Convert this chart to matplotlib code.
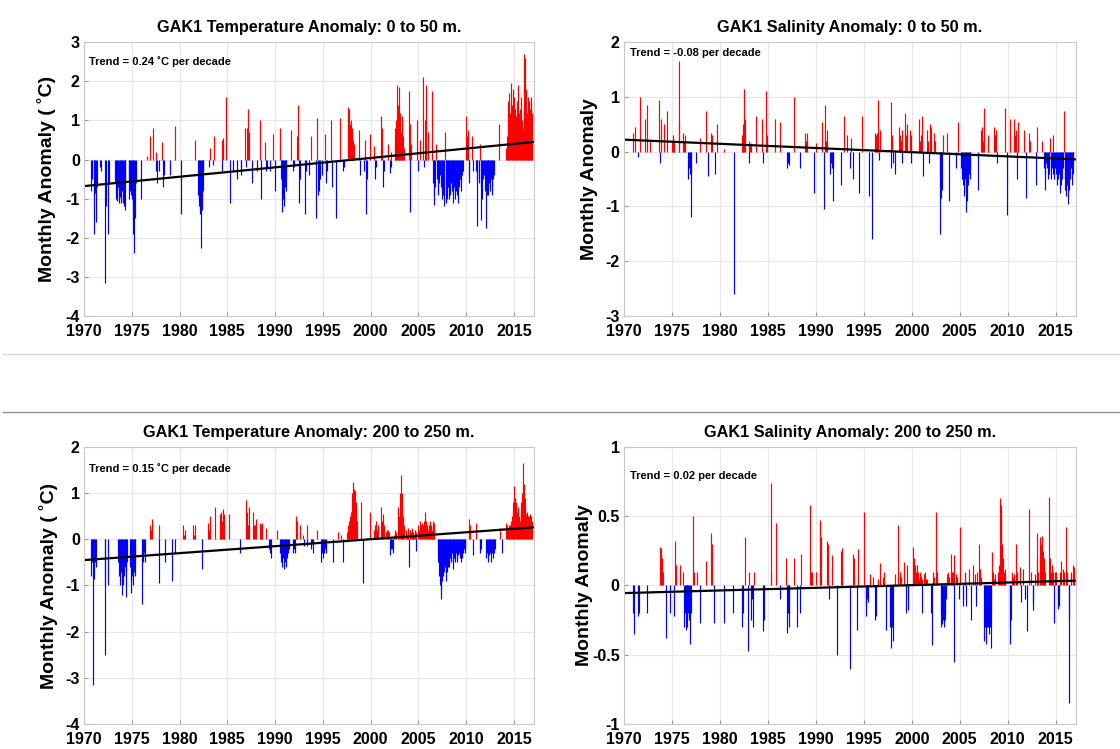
import numpy as np
import matplotlib
matplotlib.use("Agg")
import matplotlib.pyplot as plt
from matplotlib.lines import Line2D

plt.rcParams['font.family'] = ['Liberation Sans', 'DejaVu Sans']
plt.rcParams['font.weight'] = 'bold'

# monthly anomalies, as runs: (first month as decimal year, [values])
temp_shallow = [
    (1970.75, [-0.8, -0.5]), (1971.0, [-1.9, -0.9, -0.85, -1.6, -0.7]), (1971.7, [-0.2, -0.3]),
    (1972.17, [-3.15, -1.2]), (1972.5, [-1.9, -0.6]),
    (1973.25, [-0.6, -1.0, -0.9, -1.05, -0.7, -1.1, -0.95, -1.1, -1.0, -0.8, -1.1, -1.2, -1.3, -0.6]),
    (1974.67, [-0.5, -1.0, -0.8, -0.9, -1.0, -1.3, -1.9, -2.4, -1.5, -0.6]),
    (1975.92, [-1.0]), (1976.6, [0.1]), (1976.9, [0.6]), (1977.2, [0.8]), (1977.5, [-0.3, 0.2, -0.6]),
    (1977.9, [-0.3]), (1978.2, [0.45]), (1978.3, [-0.7, -0.4]), (1979.0, [-0.4]), (1979.5, [0.85]),
    (1980.2, [-1.4]), (1981.6, [0.5]),
    (1981.92, [-0.9, -1.0, -1.2, -1.4, -2.25, -1.3, -0.8, -0.3]),
    (1983.1, [-0.2, 0.3]), (1983.5, [-0.15, 0.6]), (1984.4, [0.5, -0.3, 0.55]), (1984.9, [1.6]),
    (1985.3, [-1.1]), (1985.6, [-0.3]), (1986.0, [-0.5]), (1986.4, [-0.2, -0.4]),
    (1986.9, [0.8, -0.2, 0.8, 1.3, 0.7]), (1987.6, [-0.6]),
    (1988.1, [-0.3]), (1988.4, [1.0]), (1988.55, [-1.0]), (1988.9, [0.45]), (1989.1, [-0.3, -0.2]),
    (1989.5, [-0.3]), (1989.8, [0.65]), (1990.0, [-0.8]), (1990.5, [0.8]),
    (1990.6, [-0.5, -1.35, -0.9, -1.0, -1.2, -0.7, -0.8, -0.4]),
    (1991.7, [0.75]), (1991.85, [-0.3, -0.2]), (1992.3, [0.6]), (1992.45, [1.4]), (1992.55, [-1.1, -0.5]),
    (1993.1, [-1.4, -0.3]),
    (1993.6, [-0.4]), (1993.8, [0.6]), (1994.3, [-1.5]), (1994.4, [1.05]), (1994.5, [-0.9, -0.8, -0.5]),
    (1994.95, [-0.4]), (1995.2, [0.65]), (1995.35, [-0.6, -0.3]), (1995.8, [1.0]), (1996.0, [-0.7]),
    (1996.4, [-1.5]), (1996.8, [1.05]),
    (1997.1, [-0.3, -0.2]), (1997.6, [1.35, 1.1, 1.3, 0.9, 1.0, 0.7, 0.8, 0.5, 0.4]),
    (1998.8, [0.75, -0.4]), (1999.3, [-0.3]), (1999.4, [0.5]), (1999.5, [-1.4, -0.5]),
    (1999.9, [0.65]), (2000.4, [0.35, -0.5]), (2000.6, [-0.2]), (2001.1, [1.1, 0.8, -0.7, -0.3]),
    (2001.8, [0.4]), (2002.0, [-0.35, -0.2, 0.2]),
    (2002.5, [0.5, 0.8, 1.0, 1.9, 1.4, 0.9, 1.85, 1.2, 0.7, 0.5, 1.1, 0.6, 0.3]),
    (2004.0, [1.75, 0.9, -1.35, 0.4]), (2004.9, [1.0, -0.3]), (2005.2, [0.5]),
    (2005.5, [2.1, -0.2, 1.0, 1.9, 0.6]), (2006.0, [0.7]),
    (2006.42, [1.75, -0.6, -1.15, -0.9, -0.7, 0.4, -0.5, -0.8, -0.9, -0.6, -0.4, -0.7, -1.0, -0.8, -0.9,
               -1.2, 0.7, -1.1, -0.9, -1.0, -0.7, -0.8, -1.0, -0.9, -0.6, -0.8, -1.1, -0.9, -0.7, -1.0,
               -0.8, -0.6, -0.9, -1.1, -0.7, -0.5, -0.8, -0.6, -0.4, -0.3]),
    (2010.0, [1.1, 0.6, 0.75, -0.6, -0.4, 0.0, 0.0, 0.6, -0.3, 0.0, 0.0, 0.0, -0.3, -1.7, -0.5, 0.0,
              -0.6, 0.4, -1.55, -0.7, -1.0, -0.5, -0.4, 0.0, -0.8, -1.75, -0.9, -0.9, -0.7, -0.6,
              -0.8, -0.5, -0.7, -0.9, -0.5, -0.4, 0.0, 0.0, 0.0, 0.0, 0.0, 0.9]),
    (2014.17, [0.3, 0.6, 1.0, 1.5, 1.7, 1.2, 1.95, 1.4, 1.0, 1.8, 1.6, 1.3, 0.8, 1.1, 1.5, 1.9, 1.2,
               0.9, 1.3, 1.6, 1.0, 0.8, 1.4, 2.7, 2.6, 1.8, 1.2, 1.6, 1.0, 1.5, 1.3, 1.6, 1.5, 1.2]),
]

salt_shallow = [
    (1971.0, [0.35]), (1971.15, [0.45]), (1971.5, [-0.1]), (1971.7, [1.0]), (1972.2, [0.6]),
    (1972.4, [0.85]), (1972.7, [0.2]), (1973.7, [0.95, -0.2, 0.6]), (1974.2, [0.5]), (1974.5, [0.75]),
    (1975.0, [0.2, 0.3, 0.25, 0.2]), (1975.7, [1.65, 0.55]), (1976.2, [0.35, 0.2, 0.3]),
    (1976.7, [-0.5, -0.3, -0.4, -1.2, -0.4]), (1977.5, [-0.2]), (1977.9, [0.25]), (1978.6, [0.75]),
    (1978.75, [-0.45]), (1979.1, [0.35, 0.3]), (1979.5, [-0.4]), (1979.7, [0.5]), (1980.4, [0.05]),
    (1981.5, [-2.6]), (1982.3, [0.3, 0.4, 0.5, 1.15, 0.6]), (1983.0, [0.2, -0.2, 0.1, 0.15]),
    (1983.8, [0.65]), (1984.4, [0.6, -0.2]), (1984.8, [1.1, 0.3]), (1985.8, [0.6]), (1986.3, [0.55]),
    (1987.0, [-0.3, -0.2, -0.25]), (1987.7, [1.0]), (1988.4, [-0.3]), (1988.9, [0.35, 0.2, 0.35]),
    (1989.8, [-0.75]), (1990.0, [0.15]), (1990.6, [0.55]), (1990.9, [-1.05, 0.85, 0.2, 0.4]),
    (1991.5, [-0.4, -0.2, -0.3, -0.3, -0.9]), (1992.6, [-0.6]), (1992.9, [0.65]), (1993.3, [0.3]),
    (1993.6, [-0.3]), (1993.7, [0.25]), (1993.9, [-0.5]), (1994.5, [-0.75]), (1994.8, [0.65]),
    (1995.5, [-0.8]), (1995.9, [-1.6]), (1996.2, [0.35, 0.3, 0.35, 0.2, 0.95, -0.15, 0.4]),
    (1997.8, [0.9, -0.3, 0.3, -0.2]), (1998.3, [-0.4]), (1998.7, [0.45, 0.3, 0.2, -0.2, 0.4]),
    (1999.3, [0.7, 0.3, 0.5]), (1999.8, [0.4, 0.3, -0.2]), (2000.8, [0.6, 0.2, 0.3, 0.65, -0.45]),
    (2001.6, [0.4, 0.2, -0.2, 0.5, 0.3, 0.45]), (2002.3, [0.35, 0.2]),
    (2002.9, [-1.5, -0.5, -0.85, -0.7, 0.3]), (2003.7, [0.35]), (2003.9, [-0.9]), (2004.6, [-0.3]),
    (2004.8, [0.55]),
    (2005.1, [-0.3, -0.5, -0.4, -0.6, -0.8, -0.5, -0.7, -1.1, -0.9, -0.6, -0.4, -0.5, -0.3]),
    (2006.9, [-0.7]), (2007.2, [0.4, 0.3, 0.45, 0.2, 0.8]), (2007.9, [0.3, 0.2]),
    (2008.6, [0.45, 0.3, 0.4, -0.2]), (2009.7, [0.8]), (2009.9, [-1.15]), (2010.2, [0.6, 0.3]),
    (2010.7, [0.6, 0.3, 0.4, -0.5, 0.55]), (2011.7, [0.4]), (2011.9, [-0.85]), (2012.2, [0.35, 0.2]),
    (2012.9, [-0.6]), (2013.1, [0.45]), (2013.6, [0.2]),
    (2013.75, [-0.3, -0.7, -0.4, -0.2, -0.3, -0.5, -0.3, -0.4, 0.25, -0.5, -0.3, -0.4, 0.3, -0.5,
               -0.3, -0.4, -0.6, -0.3, -0.5, -0.4, -0.75, -0.6, -0.4, -0.5, -0.3, 0.75, -0.7, -0.5,
               -0.8, -0.6, -0.95, -0.7, -0.4, -0.5, -0.3, -0.6, -0.2, -0.4]),
]

temp_deep = [
    (1970.75, [-0.8, -0.5, -3.15, -0.4, -0.85, -0.5, -0.6]), (1972.15, [-2.5, -1.0]), (1972.5, [-1.0]),
    (1973.6, [-0.5, -0.8, -1.0, -0.7, -0.9, -1.2, -1.0, -0.8, -0.6, -1.25, -0.7, -0.5]),
    (1974.8, [-0.6, -0.9, -1.17, -0.8, -1.0, -0.7, -0.8, -0.5]), (1976.1, [-1.4, -0.5, -0.3, -0.5]),
    (1976.9, [0.3, 0.2, 0.45]), (1977.8, [0.3, -0.95]), (1978.5, [-0.5]), (1979.2, [-0.9]),
    (1979.5, [-0.3]), (1980.4, [0.3, 0.1, 0.2]), (1981.4, [0.3, 0.1, 0.3]), (1982.3, [-0.65]),
    (1983.0, [0.35, 0.2, 0.5]), (1983.7, [0.7]), (1984.2, [0.55, 0.3, 0.6, 0.4, 0.65, 0.3, 0.55]),
    (1985.2, [0.55]), (1986.3, [-0.3]), (1987.0, [0.85, 0.6, 0.3, 0.7]), (1987.7, [0.6, 0.3, 0.3, 0.45]),
    (1988.4, [0.35, 0.2, 0.3, 0.35]), (1989.0, [0.25]), (1989.4, [-0.2, -0.3, -0.4]), (1990.2, [0.2]),
    (1990.5, [-0.3, -0.4, -0.5, -0.6, -0.4, -0.65, -0.5, -0.3, -0.6, -0.4, -0.3, -0.2]),
    (1991.9, [-0.3, -0.2, -0.3]), (1992.2, [0.5, 0.4]), (1992.6, [0.3]), (1992.9, [0.1, -0.15]),
    (1993.3, [-0.15, 0.3]), (1993.8, [-0.2, -0.1, -0.3]), (1994.4, [0.2]),
    (1994.8, [-0.5, -0.3, -0.4, -0.2, -0.3, -0.2, -0.3]), (1996.1, [-0.5]), (1996.6, [0.15]),
    (1996.9, [0.1]), (1997.1, [-0.5]),
    (1997.5, [0.15, 0.2, 0.3, 0.4, 0.5, 0.6, 0.7, 1.0, 1.25, 1.1, 1.05, 0.8, 0.6, 0.4]),
    (1999.0, [0.8]), (1999.2, [-0.95]), (1999.9, [0.6]), (2000.4, [0.2, 0.3, 0.4, 0.2, 0.3, 0.2]),
    (2001.1, [0.7, 0.4, 0.55, 0.3]), (2001.6, [0.15, 0.2, 0.1, 0.2, 0.15]),
    (2002.0, [-0.35, -0.2, -0.15, -0.2, -0.3]), (2002.45, [0.1, 0.2, 0.15]),
    (2002.9, [0.7, 0.5, 1.0, 1.4, 1.0, 0.7, 0.5, 0.3]),
    (2003.7, [0.2, 0.1, 0.15, 0.25, -0.6, 0.2, 0.15, 0.1, 0.25, 0.15, 0.1, 0.2, 0.15, -0.25]),
    (2005.0, [0.3, 0.2, 0.4, 0.3, 0.35, 0.2, 0.3, 0.4, 0.6, 0.3, 0.4, 0.3, 0.2, 0.3, 0.35, 0.4, 0.3,
              0.2, 0.4, 0.35, 0.1]),
    (2007.0, [-0.3, -0.5, -0.8, -1.0, -1.3, -1.1, -0.9, -0.8, -0.7, -0.5, -0.6, -0.9, -0.7, -0.6, -0.5,
              -0.6, -0.4, -0.5, -0.3, -0.5, -0.65, -0.4, -0.5, -0.3, -0.4, -0.5, -0.35, -0.3, -0.4,
              -0.5, -0.3, -0.4, -0.3, -0.2, -0.3, -0.2]),
    (2010.3, [0.45, 0.3]), (2010.7, [-0.35]), (2011.0, [0.35]), (2011.4, [-0.3, -0.2, -0.2]),
    (2012.1, [-0.4, -0.3, -0.5, -0.2, -0.35, -0.3, -0.5, -0.3, -0.2, -0.4, -0.3, -0.2]),
    (2013.5, [0.25]), (2013.8, [-0.3]),
    (2014.2, [0.35, 0.3, 0.25, 0.3, 0.2, 0.3, 0.4, 0.5, 0.6, 0.8, 1.15, 0.9, 0.8, 0.6, 0.5, 0.7, 0.5,
              0.4, 0.6, 0.8, 1.0, 1.65, 1.2, 0.9, 0.7, 0.55, 0.6, 0.5, 0.45, 0.5, 0.55, 0.5, 0.4]),
]

salt_deep = [
    (1971.0, [-0.2, -0.35]), (1971.5, [-0.22, -0.2]), (1972.4, [-0.2]), (1973.8, [0.28, 0.27, 0.2, 0.1]),
    (1974.4, [-0.38]), (1974.8, [-0.2]), (1975.25, [-0.22]), (1975.35, [0.32, 0.15]), (1975.8, [0.15]),
    (1976.2, [0.1, -0.3, -0.2, -0.32, -0.25, -0.3, -0.2, -0.25, -0.42, -0.2]), (1977.2, [0.5, 0.1]),
    (1977.6, [0.1]), (1977.9, [-0.27]), (1978.6, [0.18]), (1979.1, [0.38, 0.3]), (1979.35, [-0.27]),
    (1980.4, [-0.27]), (1981.4, [-0.2]), (1982.3, [-0.3, -0.2]), (1982.6, [0.35]), (1982.9, [-0.47]),
    (1983.0, [0.1]), (1983.3, [-0.25, -0.1, -0.3]), (1983.55, [0.1]), (1984.5, [-0.33, -0.25]),
    (1985.3, [0.74, 0.1]), (1985.9, [0.45]), (1986.3, [-0.1]), (1986.9, [0.2]),
    (1987.0, [-0.34, -0.2, -0.3, -0.2]), (1987.7, [0.2]), (1988.0, [-0.3]), (1988.4, [-0.2]),
    (1988.5, [0.23]), (1989.4, [0.58, 0.1, 0.05, 0.1]), (1990.0, [0.1]), (1990.4, [0.45, 0.47, 0.35]),
    (1991.2, [0.32, 0.3, -0.1]), (1991.7, [0.22]), (1992.2, [-0.5]), (1992.6, [0.25, 0.1, 0.27]),
    (1993.55, [-0.6]), (1993.9, [0.23, 0.2]), (1994.3, [-0.32, 0.26]), (1995.0, [0.53]),
    (1995.2, [-0.15, -0.22, -0.1, -0.12]), (1995.6, [0.05, 0.08]), (1996.0, [0.06]),
    (1996.2, [-0.25, -0.22]), (1996.5, [0.05]), (1996.7, [0.16]), (1997.0, [0.06, 0.1]),
    (1997.3, [-0.32]), (1997.7, [-0.2, -0.3, -0.45, -0.3, -0.4]), (1998.3, [0.08]), (1998.6, [0.44]),
    (1998.8, [0.1, 0.06]), (1999.2, [0.17]),
    (1999.4, [-0.2, 0.15, -0.18, -0.1]),
    (2000.1, [0.28, 0.1, 0.2, 0.15, 0.1, 0.15, 0.07, 0.1, 0.05, 0.1, 0.07, -0.2, 0.05]),
    (2001.3, [0.08, 0.1, 0.05]), (2001.6, [0.05]), (2002.0, [-0.2, -0.43]), (2002.25, [0.1, 0.06]),
    (2002.5, [0.53, 0.05, 0.1]),
    (2003.0, [-0.3, -0.2, -0.28, -0.25, -0.3, -0.2, -0.25, -0.1]), (2003.7, [0.08, 0.1, 0.06]),
    (2004.1, [0.23, 0.1, 0.1, 0.22]),
    (2004.45, [-0.55]), (2004.6, [0.08, 0.06]), (2004.95, [-0.1, 0.42]), (2005.3, [-0.15, -0.1]),
    (2005.5, [0.1, 0.08]), (2005.7, [-0.15]),
    (2006.0, [0.12]), (2006.2, [-0.25]), (2006.4, [0.15]), (2006.55, [0.08]), (2006.7, [-0.15]),
    (2006.85, [0.1]), (2007.0, [0.3, 0.12, 0.06]),
    (2007.55, [-0.4, -0.3, -0.42, -0.3, -0.2, -0.3, -0.35, -0.3, -0.45, -0.2]), (2008.4, [0.24, 0.1, 0.05]),
    (2008.7, [0.08]),
    (2009.0, [0.1, 0.15, 0.63, 0.5, 0.58, 0.3, 0.2, 0.1, 0.12, 0.08]), (2010.2, [-0.3, -0.42, -0.25]),
    (2010.45, [0.1, 0.06, 0.08]),
    (2010.9, [0.3, 0.1]), (2011.3, [0.13, -0.12]), (2011.6, [0.12]), (2011.8, [-0.1]), (2012.0, [-0.33]),
    (2012.2, [0.55]), (2012.4, [0.1]), (2012.6, [-0.12, -0.18]), (2012.8, [0.08]), (2013.0, [0.38, 0.2]),
    (2013.2, [0.1]),
    (2013.4, [0.35, 0.3, 0.36, 0.25, 0.2, 0.15, 0.1]), (2014.35, [0.64, 0.2, 0.1, 0.15, 0.1]),
    (2014.8, [-0.27]), (2014.9, [0.1]),
    (2015.0, [0.1]), (2015.2, [-0.17, -0.1, -0.15]), (2015.45, [0.1]), (2015.6, [0.18]),
    (2015.8, [0.12, 0.1]), (2016.1, [0.42, 0.1]),
    (2016.35, [-0.85, -0.25]), (2016.55, [0.1, 0.08]), (2016.8, [0.15, 0.13]),
]

# trend line end values at 1970 and 2017
trend_ends = {
    'temp_shallow': (-0.68, 0.45),
    'salt_shallow': (0.22, -0.14),
    'temp_deep': (-0.45, 0.26),
    'salt_deep': (-0.055, 0.035),
}

titles = ["GAK1 Temperature Anomaly: 0 to 50 m.", "GAK1 Salinity Anomaly: 0 to 50 m.",
          "GAK1 Temperature Anomaly: 200 to 250 m.", "GAK1 Salinity Anomaly: 200 to 250 m."]
trend_texts = ["Trend = 0.24 ˚C per decade", "Trend = -0.08 per decade",
               "Trend = 0.15 ˚C per decade", "Trend = 0.02 per decade"]
ylabels = ["Monthly Anomaly ( ˚C)", "Monthly Anomaly", "Monthly Anomaly ( ˚C)", "Monthly Anomaly"]
year_ticks = list(range(1970, 2016, 5))


def expand(runs):
    t, v = [], []
    for start, vals in runs:
        for i, val in enumerate(vals):
            if val != 0:
                t.append(start + i / 12)
                v.append(val)
    return np.array(t), np.array(v)


fig = plt.figure(figsize=(11.2, 7.49), dpi=100)

panels = [
    (temp_shallow, 'temp_shallow', [0.075, 0.578, 0.4018, 0.3658], (-4, 3), list(range(-4, 4)), (0.01, 0.93), -0.062),
    (salt_shallow, 'salt_shallow', [0.557, 0.578, 0.4036, 0.3658], (-3, 2), list(range(-3, 3)), (0.013, 0.96), -0.058),
    (temp_deep, 'temp_deep', [0.075, 0.0334, 0.4018, 0.3698], (-4, 2), list(range(-4, 3)), (0.01, 0.924), -0.058),
    (salt_deep, 'salt_deep', [0.557, 0.0334, 0.4036, 0.3698], (-1, 1), [-1, -0.5, 0, 0.5, 1], (0.013, 0.895), -0.069),
]

for k, (runs, key, rect, ylim, yticks, tpos, lab_x) in enumerate(panels):
    ax = fig.add_axes(rect)
    t, v = expand(runs)
    cols = np.where(v > 0, '#ff0000', '#0000ff')
    ax.vlines(t, 0, v, colors=cols, linewidth=0.85)
    ax.plot([1970, 2017.1], list(trend_ends[key]), color='black', linewidth=1.6)
    ax.set_xlim(1970, 2017.1)
    ax.set_ylim(*ylim)
    ax.set_xticks(year_ticks)
    ax.set_yticks(yticks)
    ax.set_yticklabels([f"{y:g}" for y in yticks])
    ax.tick_params(direction='in', length=3, color='#999999', labelsize=11.5)
    ax.tick_params(axis='x', pad=6)
    ax.tick_params(axis='y', pad=3)
    for lbl in ax.get_xticklabels() + ax.get_yticklabels():
        lbl.set_fontweight('bold')
    for sp in ax.spines.values():
        sp.set_color('#c8c8c8')
    ax.grid(True, color='#e8e8e8', linewidth=0.9)
    ax.set_axisbelow(True)
    ax.set_title(titles[k], fontsize=11.7, fontweight='bold', pad=7)
    ax.set_ylabel(ylabels[k], fontsize=14, fontweight='bold')
    ax.yaxis.set_label_coords(lab_x, 0.5)
    ax.text(tpos[0], tpos[1], trend_texts[k], transform=ax.transAxes, fontsize=8,
            fontweight='bold', va='center', ha='left')

# page separator lines
fig.add_artist(Line2D([0.003, 1.0], [0.527, 0.527], color='#d8d8d8', linewidth=1.0))
fig.add_artist(Line2D([0.003, 1.0], [0.450, 0.450], color='#909090', linewidth=1.0))

fig.savefig("out.png", dpi=100)
